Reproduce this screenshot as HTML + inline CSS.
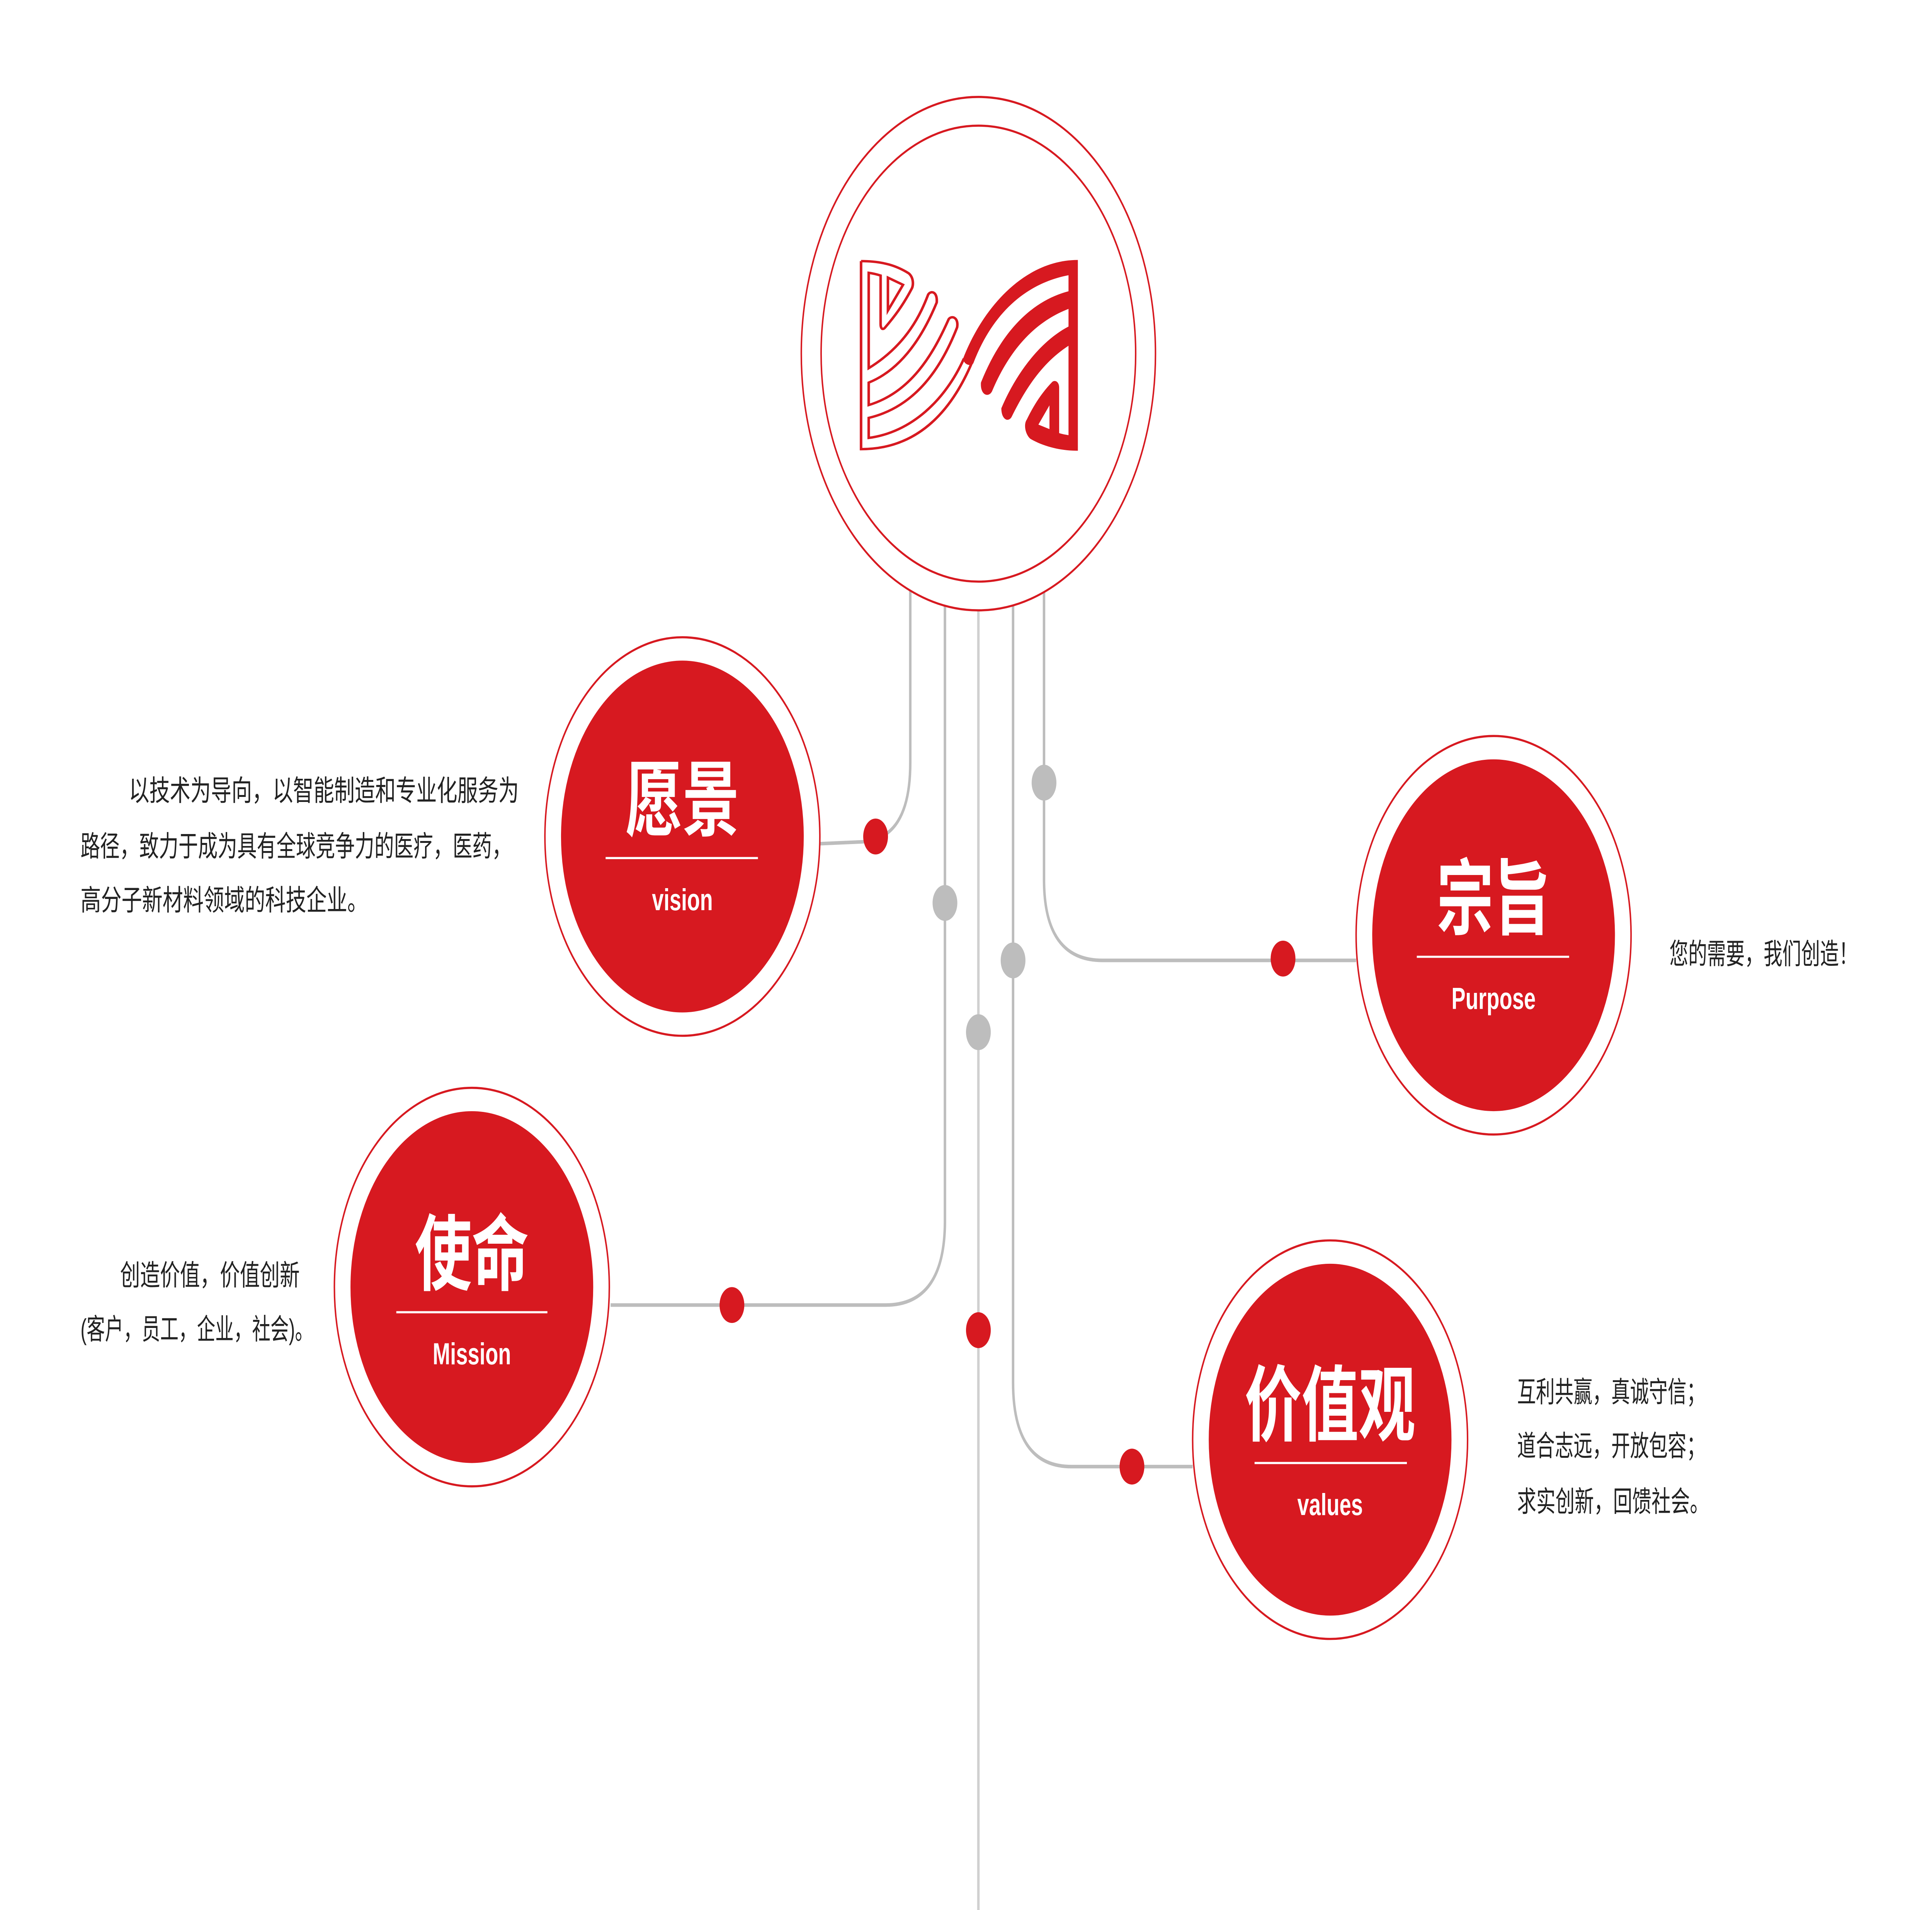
<!DOCTYPE html>
<html><head><meta charset="utf-8"><style>html,body{margin:0;padding:0;background:#fff;width:100%;height:100%;overflow:hidden}svg{display:block;width:100vw;height:100vh;position:absolute;left:0;top:0}</style></head>
<body>
<svg viewBox="0 0 1560 1064" preserveAspectRatio="none" xmlns="http://www.w3.org/2000/svg" font-family="'Liberation Sans','Noto Sans CJK SC',sans-serif">
<g fill="none" stroke="#bdbdbd" stroke-width="2">
<path d="M735,328 L735,425 Q735,468 695,469 L662,470"/>
<path d="M763,335 L763,680 Q763,727 715,727 L493,727"/>
<path d="M790,338 L790,1068" stroke="#d0d0d0"/>
<path d="M818,335 L818,770 Q818,817 865,817 L963,817"/>
<path d="M843,328 L843,490 Q843,535 890,535 L1095,535"/>
</g>
<g fill="#bdbdbd"><circle cx="763" cy="503" r="10"/><circle cx="790" cy="575" r="10"/><circle cx="818" cy="535" r="10"/><circle cx="843" cy="436" r="10"/></g>
<g fill="#d71920"><circle cx="707" cy="466" r="10"/><circle cx="591" cy="727" r="10"/><circle cx="790" cy="741" r="10"/><circle cx="914" cy="817" r="10"/><circle cx="1036" cy="534" r="10"/></g>
<circle cx="790" cy="197" r="143" fill="#fff" stroke="#d71920" stroke-width="1.2"/>
<circle cx="790" cy="197" r="127" fill="#fff" stroke="#d71920" stroke-width="1.2"/>
<g transform="translate(678.1,129.2) scale(0.1373,0.0893)">
<g fill="none" stroke="#d71920" stroke-width="15">
<path d="M125,182 L125,1355 C450,1355 650,1130 775,820"/>
<path d="M125,182 C260,182 340,215 405,258 C435,285 435,335 420,360 C370,460 320,530 265,598 C250,615 240,600 240,575 L240,272 C210,262 190,258 170,255 L170,850 C400,700 480,500 520,390 C535,365 575,370 570,440 C500,620 380,850 170,940 L170,1080 C420,1000 550,760 640,545 C655,520 700,530 690,595 C600,840 450,1090 170,1160 L170,1285 C420,1250 620,1050 730,790"/>
<path d="M283,285 L372,330 L283,490 Z"/>
</g>
<path fill="#d71920" d="M1400,175 L1400,1365 C1300,1365 1200,1340 1120,1290 C1090,1260 1080,1200 1100,1170 C1150,1060 1200,990 1250,935 C1270,920 1290,940 1290,970 L1290,1255 C1310,1262 1330,1265 1345,1268 L1345,710 C1200,810 1100,960 1010,1155 C990,1190 950,1170 950,1100 C1050,850 1200,670 1345,590 L1345,480 C1150,560 1000,730 895,995 C875,1035 825,1020 830,940 C950,620 1130,430 1345,370 L1345,270 C1100,320 900,500 785,820 C770,840 730,830 725,790 C850,450 1100,175 1400,175 Z"/>
<path fill="#fff" d="M1233,1082 L1233,1230 L1168,1202 Z"/>
</g>
<g stroke="#d71920" stroke-width="1.2" fill="#fff">
<circle cx="551" cy="466" r="111"/><circle cx="1206" cy="521" r="111"/><circle cx="381" cy="717" r="111"/><circle cx="1074" cy="802" r="111"/>
</g>
<g fill="#d71920">
<circle cx="551" cy="466" r="98"/><circle cx="1206" cy="521" r="98"/><circle cx="381" cy="717" r="98"/><circle cx="1074" cy="802" r="98"/>
</g>
<g stroke="#fff" stroke-width="1.2">
<line x1="489" y1="478" x2="612" y2="478"/><line x1="1144" y1="533" x2="1267" y2="533"/><line x1="320" y1="731" x2="442" y2="731"/><line x1="1013" y1="815" x2="1136" y2="815"/>
</g>
<g fill="#fff" text-anchor="middle" font-weight="bold">
<text x="551" y="462" font-size="46">愿景</text>
<text x="551" y="507" font-size="17">vision</text>
<text x="1206" y="517" font-size="46">宗旨</text>
<text x="1206" y="562" font-size="17">Purpose</text>
<text x="381" y="715" font-size="46">使命</text>
<text x="381" y="760" font-size="17">Mission</text>
<text x="1074" y="799" font-size="46">价值观</text>
<text x="1074" y="844" font-size="17">values</text>
</g>
<g fill="#222" font-size="16">
<text x="104" y="446" textLength="315" lengthAdjust="spacingAndGlyphs">以技术为导向，以智能制造和专业化服务为</text>
<text x="65" y="477" textLength="348" lengthAdjust="spacingAndGlyphs">路径，致力于成为具有全球竞争力的医疗，医药，</text>
<text x="65" y="507" textLength="232" lengthAdjust="spacingAndGlyphs">高分子新材料领域的科技企业。</text>
<text x="1348" y="537" textLength="152" lengthAdjust="spacingAndGlyphs">您的需要，我们创造！</text>
<text x="97" y="716" textLength="145" lengthAdjust="spacingAndGlyphs">创造价值，价值创新</text>
<text x="65" y="746" textLength="188" lengthAdjust="spacingAndGlyphs">(客户，员工，企业，社会)。</text>
<text x="1225" y="781" textLength="152" lengthAdjust="spacingAndGlyphs">互利共赢，真诚守信；</text>
<text x="1225" y="811" textLength="152" lengthAdjust="spacingAndGlyphs">道合志远，开放包容；</text>
<text x="1225" y="842" textLength="155" lengthAdjust="spacingAndGlyphs">求实创新，回馈社会。</text>
</g>
</svg>
</body></html>
